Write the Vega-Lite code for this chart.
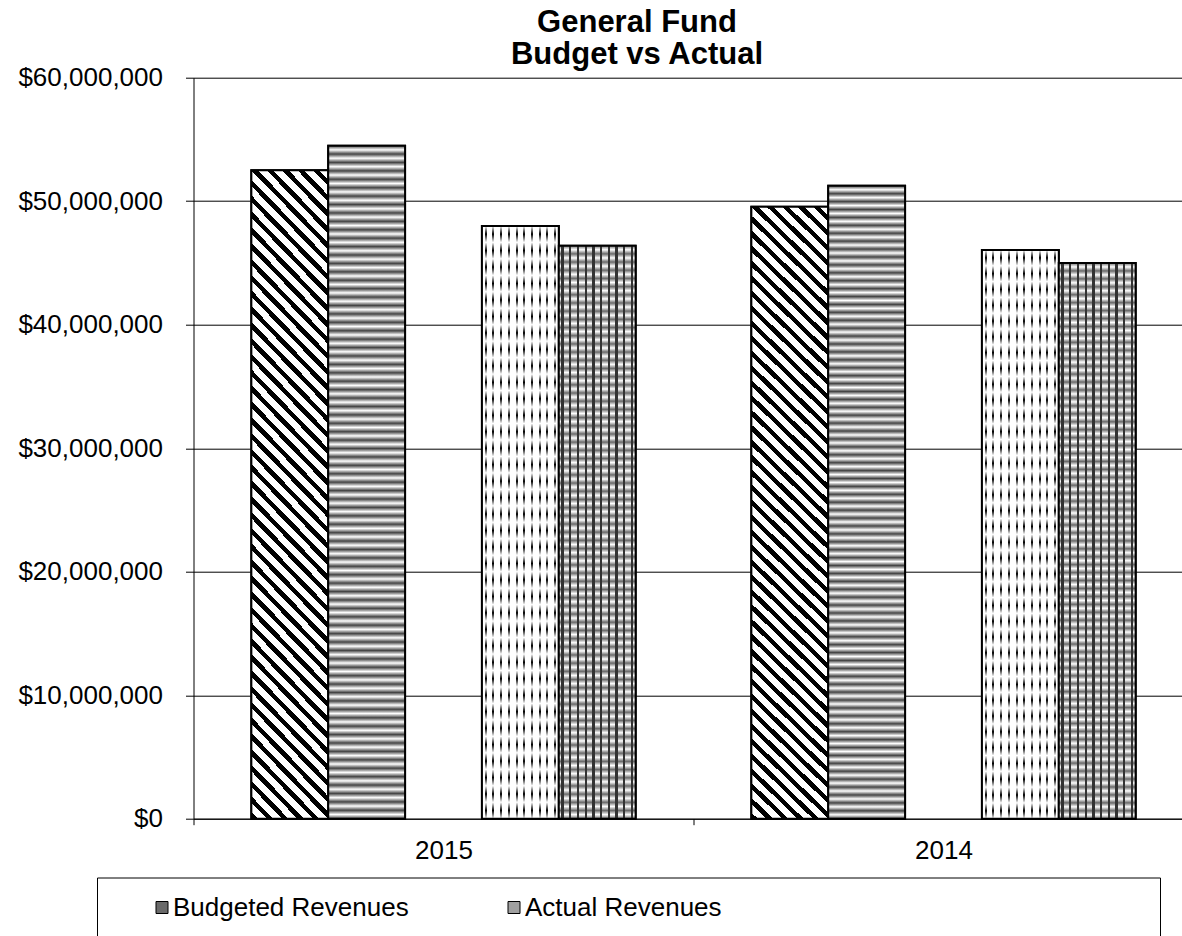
{
  "$schema": "https://vega.github.io/schema/vega-lite/v6.json",
  "width": 988.5,
  "height": 741,
  "autosize": {"type": "none"},
  "padding": {"left": 193.5, "top": 77.7, "right": 0, "bottom": 117.3},
  "background": "white",
  "title": {
    "text": ["General Fund", "Budget vs Actual"],
    "fontSize": 31,
    "fontWeight": "bold",
    "color": "black",
    "anchor": "middle",
    "frame": "group",
    "dx": -50.75,
    "dy": 16,
    "lineHeight": 32,
    "offset": 10
  },
  "config": {
    "font": "Liberation Sans",
    "view": {"stroke": null},
    "axis": {
      "labelFontSize": 26,
      "labelColor": "black",
      "domainColor": "black",
      "tickColor": "black",
      "domainWidth": 1,
      "tickWidth": 1,
      "labelOverlap": false
    }
  },
  "data": {
    "values": [
      {"year": "2015", "series": "Budgeted Revenues", "amount": 52500000},
      {"year": "2015", "series": "Actual Revenues", "amount": 54500000},
      {"year": "2015", "series": "Budgeted Expenditures", "amount": 48000000},
      {"year": "2015", "series": "Actual Expenditures", "amount": 46400000},
      {"year": "2014", "series": "Budgeted Revenues", "amount": 49550000},
      {"year": "2014", "series": "Actual Revenues", "amount": 51250000},
      {"year": "2014", "series": "Budgeted Expenditures", "amount": 46050000},
      {"year": "2014", "series": "Actual Expenditures", "amount": 45000000}
    ]
  },
  "encoding": {
    "x": {
      "field": "year",
      "type": "nominal",
      "sort": ["2015", "2014"],
      "title": null,
      "scale": {"range": [0, 1000], "paddingInner": 0, "paddingOuter": 0},
      "axis": {"labelAngle": 0, "tickBand": "extent", "tickSize": 6, "labelPadding": 13, "grid": false}
    },
    "xOffset": {
      "field": "series",
      "type": "nominal",
      "scale": {
        "domain": ["Budgeted Revenues", "Actual Revenues", " ", "Budgeted Expenditures", "Actual Expenditures"],
        "paddingInner": 0,
        "paddingOuter": 0.7526
      }
    },
    "y": {
      "field": "amount",
      "type": "quantitative",
      "title": null,
      "scale": {"domain": [0, 60000000], "nice": false},
      "axis": {
        "values": [0, 10000000, 20000000, 30000000, 40000000, 50000000, 60000000],
        "format": "$,.0f",
        "grid": true,
        "gridColor": "black",
        "gridWidth": 1,
        "tickSize": 8,
        "labelPadding": 23
      }
    }
  },
  "layer": [
    {
      "mark": {"type": "bar", "stroke": "black", "strokeWidth": 2},
      "encoding": {
        "color": {
          "field": "series",
          "type": "nominal",
          "scale": {
            "domain": ["Budgeted Revenues", "Actual Revenues", " ", "Budgeted Expenditures", "Actual Expenditures"],
            "range": ["#6a6a6a", "#a0a0a0", "#ffffff", "#e0e0e0", "#5c5c5c"]
          },
          "legend": {
            "orient": "none",
            "legendX": -96.5,
            "legendY": 799.8,
            "direction": "horizontal",
            "columns": 3,
            "gridAlign": "all",
            "values": ["Budgeted Revenues", "Actual Revenues", " "],
            "title": null,
            "labelFontSize": 26,
            "labelColor": "black",
            "labelLimit": 500,
            "labelOffset": -2,
            "symbolType": "square",
            "symbolSize": 144,
            "symbolStrokeColor": "black",
            "symbolStrokeWidth": 1,
            "symbolOffset": 35,
            "columnPadding": 27,
            "padding": 17,
            "strokeColor": "black",
            "fillColor": "white",
            "encode": {
              "symbols": {
                "update": {
                  "stroke": {"signal": "datum.value === ' ' ? 'transparent' : 'black'"},
                  "shape": {"signal": "datum.value === ' ' ? 'M0,0L45.67,0' : 'square'"}
                }
              }
            }
          }
        }
      }
    },
    {
      "transform": [{"filter": "datum.series === 'Budgeted Revenues'"}],
      "mark": {
        "type": "bar",
        "stroke": "black",
        "strokeWidth": 2,
        "fill": {
          "gradient": "linear", "x1": 0, "y1": 1, "x2": 0.1349, "y2": -0.1055,
          "stops": [
            {"offset":0,"color":"#000"},{"offset":0.0091,"color":"#000"},{"offset":0.0091,"color":"#fff"},{"offset":0.0217,"color":"#fff"},
            {"offset":0.0217,"color":"#000"},{"offset":0.0309,"color":"#000"},{"offset":0.0309,"color":"#fff"},{"offset":0.0435,"color":"#fff"},
            {"offset":0.0435,"color":"#000"},{"offset":0.0526,"color":"#000"},{"offset":0.0526,"color":"#fff"},{"offset":0.0652,"color":"#fff"},
            {"offset":0.0652,"color":"#000"},{"offset":0.0743,"color":"#000"},{"offset":0.0743,"color":"#fff"},{"offset":0.087,"color":"#fff"},
            {"offset":0.087,"color":"#000"},{"offset":0.0961,"color":"#000"},{"offset":0.0961,"color":"#fff"},{"offset":0.1087,"color":"#fff"},
            {"offset":0.1087,"color":"#000"},{"offset":0.1178,"color":"#000"},{"offset":0.1178,"color":"#fff"},{"offset":0.1304,"color":"#fff"},
            {"offset":0.1304,"color":"#000"},{"offset":0.1396,"color":"#000"},{"offset":0.1396,"color":"#fff"},{"offset":0.1522,"color":"#fff"},
            {"offset":0.1522,"color":"#000"},{"offset":0.1613,"color":"#000"},{"offset":0.1613,"color":"#fff"},{"offset":0.1739,"color":"#fff"},
            {"offset":0.1739,"color":"#000"},{"offset":0.183,"color":"#000"},{"offset":0.183,"color":"#fff"},{"offset":0.1957,"color":"#fff"},
            {"offset":0.1957,"color":"#000"},{"offset":0.2048,"color":"#000"},{"offset":0.2048,"color":"#fff"},{"offset":0.2174,"color":"#fff"},
            {"offset":0.2174,"color":"#000"},{"offset":0.2265,"color":"#000"},{"offset":0.2265,"color":"#fff"},{"offset":0.2391,"color":"#fff"},
            {"offset":0.2391,"color":"#000"},{"offset":0.2483,"color":"#000"},{"offset":0.2483,"color":"#fff"},{"offset":0.2609,"color":"#fff"},
            {"offset":0.2609,"color":"#000"},{"offset":0.27,"color":"#000"},{"offset":0.27,"color":"#fff"},{"offset":0.2826,"color":"#fff"},
            {"offset":0.2826,"color":"#000"},{"offset":0.2917,"color":"#000"},{"offset":0.2917,"color":"#fff"},{"offset":0.3043,"color":"#fff"},
            {"offset":0.3043,"color":"#000"},{"offset":0.3135,"color":"#000"},{"offset":0.3135,"color":"#fff"},{"offset":0.3261,"color":"#fff"},
            {"offset":0.3261,"color":"#000"},{"offset":0.3352,"color":"#000"},{"offset":0.3352,"color":"#fff"},{"offset":0.3478,"color":"#fff"},
            {"offset":0.3478,"color":"#000"},{"offset":0.357,"color":"#000"},{"offset":0.357,"color":"#fff"},{"offset":0.3696,"color":"#fff"},
            {"offset":0.3696,"color":"#000"},{"offset":0.3787,"color":"#000"},{"offset":0.3787,"color":"#fff"},{"offset":0.3913,"color":"#fff"},
            {"offset":0.3913,"color":"#000"},{"offset":0.4004,"color":"#000"},{"offset":0.4004,"color":"#fff"},{"offset":0.413,"color":"#fff"},
            {"offset":0.413,"color":"#000"},{"offset":0.4222,"color":"#000"},{"offset":0.4222,"color":"#fff"},{"offset":0.4348,"color":"#fff"},
            {"offset":0.4348,"color":"#000"},{"offset":0.4439,"color":"#000"},{"offset":0.4439,"color":"#fff"},{"offset":0.4565,"color":"#fff"},
            {"offset":0.4565,"color":"#000"},{"offset":0.4657,"color":"#000"},{"offset":0.4657,"color":"#fff"},{"offset":0.4783,"color":"#fff"},
            {"offset":0.4783,"color":"#000"},{"offset":0.4874,"color":"#000"},{"offset":0.4874,"color":"#fff"},{"offset":0.5,"color":"#fff"},
            {"offset":0.5,"color":"#000"},{"offset":0.5091,"color":"#000"},{"offset":0.5091,"color":"#fff"},{"offset":0.5217,"color":"#fff"},
            {"offset":0.5217,"color":"#000"},{"offset":0.5309,"color":"#000"},{"offset":0.5309,"color":"#fff"},{"offset":0.5435,"color":"#fff"},
            {"offset":0.5435,"color":"#000"},{"offset":0.5526,"color":"#000"},{"offset":0.5526,"color":"#fff"},{"offset":0.5652,"color":"#fff"},
            {"offset":0.5652,"color":"#000"},{"offset":0.5743,"color":"#000"},{"offset":0.5743,"color":"#fff"},{"offset":0.587,"color":"#fff"},
            {"offset":0.587,"color":"#000"},{"offset":0.5961,"color":"#000"},{"offset":0.5961,"color":"#fff"},{"offset":0.6087,"color":"#fff"},
            {"offset":0.6087,"color":"#000"},{"offset":0.6178,"color":"#000"},{"offset":0.6178,"color":"#fff"},{"offset":0.6304,"color":"#fff"},
            {"offset":0.6304,"color":"#000"},{"offset":0.6396,"color":"#000"},{"offset":0.6396,"color":"#fff"},{"offset":0.6522,"color":"#fff"},
            {"offset":0.6522,"color":"#000"},{"offset":0.6613,"color":"#000"},{"offset":0.6613,"color":"#fff"},{"offset":0.6739,"color":"#fff"},
            {"offset":0.6739,"color":"#000"},{"offset":0.683,"color":"#000"},{"offset":0.683,"color":"#fff"},{"offset":0.6957,"color":"#fff"},
            {"offset":0.6957,"color":"#000"},{"offset":0.7048,"color":"#000"},{"offset":0.7048,"color":"#fff"},{"offset":0.7174,"color":"#fff"},
            {"offset":0.7174,"color":"#000"},{"offset":0.7265,"color":"#000"},{"offset":0.7265,"color":"#fff"},{"offset":0.7391,"color":"#fff"},
            {"offset":0.7391,"color":"#000"},{"offset":0.7483,"color":"#000"},{"offset":0.7483,"color":"#fff"},{"offset":0.7609,"color":"#fff"},
            {"offset":0.7609,"color":"#000"},{"offset":0.77,"color":"#000"},{"offset":0.77,"color":"#fff"},{"offset":0.7826,"color":"#fff"},
            {"offset":0.7826,"color":"#000"},{"offset":0.7917,"color":"#000"},{"offset":0.7917,"color":"#fff"},{"offset":0.8043,"color":"#fff"},
            {"offset":0.8043,"color":"#000"},{"offset":0.8135,"color":"#000"},{"offset":0.8135,"color":"#fff"},{"offset":0.8261,"color":"#fff"},
            {"offset":0.8261,"color":"#000"},{"offset":0.8352,"color":"#000"},{"offset":0.8352,"color":"#fff"},{"offset":0.8478,"color":"#fff"},
            {"offset":0.8478,"color":"#000"},{"offset":0.857,"color":"#000"},{"offset":0.857,"color":"#fff"},{"offset":0.8696,"color":"#fff"},
            {"offset":0.8696,"color":"#000"},{"offset":0.8787,"color":"#000"},{"offset":0.8787,"color":"#fff"},{"offset":0.8913,"color":"#fff"},
            {"offset":0.8913,"color":"#000"},{"offset":0.9004,"color":"#000"},{"offset":0.9004,"color":"#fff"},{"offset":0.913,"color":"#fff"},
            {"offset":0.913,"color":"#000"},{"offset":0.9222,"color":"#000"},{"offset":0.9222,"color":"#fff"},{"offset":0.9348,"color":"#fff"},
            {"offset":0.9348,"color":"#000"},{"offset":0.9439,"color":"#000"},{"offset":0.9439,"color":"#fff"},{"offset":0.9565,"color":"#fff"},
            {"offset":0.9565,"color":"#000"},{"offset":0.9657,"color":"#000"},{"offset":0.9657,"color":"#fff"},{"offset":0.9783,"color":"#fff"},
            {"offset":0.9783,"color":"#000"},{"offset":0.9874,"color":"#000"},{"offset":0.9874,"color":"#fff"},{"offset":1,"color":"#fff"}
          ]
        }
      }
    },
    {
      "transform": [{"filter": "datum.series === 'Actual Revenues'"}],
      "mark": {
        "type": "bar",
        "stroke": "black",
        "strokeWidth": 2,
        "fill": {
          "gradient": "linear", "x1": 0, "y1": 0, "x2": 0, "y2": 1,
          "stops": [
            {"offset":0,"color":"#444"},{"offset":0.00625,"color":"#fff"},{"offset":0.0125,"color":"#444"},{"offset":0.01875,"color":"#fff"},{"offset":0.025,"color":"#444"},{"offset":0.03125,"color":"#fff"},{"offset":0.0375,"color":"#444"},{"offset":0.04375,"color":"#fff"},
            {"offset":0.05,"color":"#444"},{"offset":0.05625,"color":"#fff"},{"offset":0.0625,"color":"#444"},{"offset":0.06875,"color":"#fff"},{"offset":0.075,"color":"#444"},{"offset":0.08125,"color":"#fff"},{"offset":0.0875,"color":"#444"},{"offset":0.09375,"color":"#fff"},
            {"offset":0.1,"color":"#444"},{"offset":0.10625,"color":"#fff"},{"offset":0.1125,"color":"#444"},{"offset":0.11875,"color":"#fff"},{"offset":0.125,"color":"#444"},{"offset":0.13125,"color":"#fff"},{"offset":0.1375,"color":"#444"},{"offset":0.14375,"color":"#fff"},
            {"offset":0.15,"color":"#444"},{"offset":0.15625,"color":"#fff"},{"offset":0.1625,"color":"#444"},{"offset":0.16875,"color":"#fff"},{"offset":0.175,"color":"#444"},{"offset":0.18125,"color":"#fff"},{"offset":0.1875,"color":"#444"},{"offset":0.19375,"color":"#fff"},
            {"offset":0.2,"color":"#444"},{"offset":0.20625,"color":"#fff"},{"offset":0.2125,"color":"#444"},{"offset":0.21875,"color":"#fff"},{"offset":0.225,"color":"#444"},{"offset":0.23125,"color":"#fff"},{"offset":0.2375,"color":"#444"},{"offset":0.24375,"color":"#fff"},
            {"offset":0.25,"color":"#444"},{"offset":0.25625,"color":"#fff"},{"offset":0.2625,"color":"#444"},{"offset":0.26875,"color":"#fff"},{"offset":0.275,"color":"#444"},{"offset":0.28125,"color":"#fff"},{"offset":0.2875,"color":"#444"},{"offset":0.29375,"color":"#fff"},
            {"offset":0.3,"color":"#444"},{"offset":0.30625,"color":"#fff"},{"offset":0.3125,"color":"#444"},{"offset":0.31875,"color":"#fff"},{"offset":0.325,"color":"#444"},{"offset":0.33125,"color":"#fff"},{"offset":0.3375,"color":"#444"},{"offset":0.34375,"color":"#fff"},
            {"offset":0.35,"color":"#444"},{"offset":0.35625,"color":"#fff"},{"offset":0.3625,"color":"#444"},{"offset":0.36875,"color":"#fff"},{"offset":0.375,"color":"#444"},{"offset":0.38125,"color":"#fff"},{"offset":0.3875,"color":"#444"},{"offset":0.39375,"color":"#fff"},
            {"offset":0.4,"color":"#444"},{"offset":0.40625,"color":"#fff"},{"offset":0.4125,"color":"#444"},{"offset":0.41875,"color":"#fff"},{"offset":0.425,"color":"#444"},{"offset":0.43125,"color":"#fff"},{"offset":0.4375,"color":"#444"},{"offset":0.44375,"color":"#fff"},
            {"offset":0.45,"color":"#444"},{"offset":0.45625,"color":"#fff"},{"offset":0.4625,"color":"#444"},{"offset":0.46875,"color":"#fff"},{"offset":0.475,"color":"#444"},{"offset":0.48125,"color":"#fff"},{"offset":0.4875,"color":"#444"},{"offset":0.49375,"color":"#fff"},
            {"offset":0.5,"color":"#444"},{"offset":0.50625,"color":"#fff"},{"offset":0.5125,"color":"#444"},{"offset":0.51875,"color":"#fff"},{"offset":0.525,"color":"#444"},{"offset":0.53125,"color":"#fff"},{"offset":0.5375,"color":"#444"},{"offset":0.54375,"color":"#fff"},
            {"offset":0.55,"color":"#444"},{"offset":0.55625,"color":"#fff"},{"offset":0.5625,"color":"#444"},{"offset":0.56875,"color":"#fff"},{"offset":0.575,"color":"#444"},{"offset":0.58125,"color":"#fff"},{"offset":0.5875,"color":"#444"},{"offset":0.59375,"color":"#fff"},
            {"offset":0.6,"color":"#444"},{"offset":0.60625,"color":"#fff"},{"offset":0.6125,"color":"#444"},{"offset":0.61875,"color":"#fff"},{"offset":0.625,"color":"#444"},{"offset":0.63125,"color":"#fff"},{"offset":0.6375,"color":"#444"},{"offset":0.64375,"color":"#fff"},
            {"offset":0.65,"color":"#444"},{"offset":0.65625,"color":"#fff"},{"offset":0.6625,"color":"#444"},{"offset":0.66875,"color":"#fff"},{"offset":0.675,"color":"#444"},{"offset":0.68125,"color":"#fff"},{"offset":0.6875,"color":"#444"},{"offset":0.69375,"color":"#fff"},
            {"offset":0.7,"color":"#444"},{"offset":0.70625,"color":"#fff"},{"offset":0.7125,"color":"#444"},{"offset":0.71875,"color":"#fff"},{"offset":0.725,"color":"#444"},{"offset":0.73125,"color":"#fff"},{"offset":0.7375,"color":"#444"},{"offset":0.74375,"color":"#fff"},
            {"offset":0.75,"color":"#444"},{"offset":0.75625,"color":"#fff"},{"offset":0.7625,"color":"#444"},{"offset":0.76875,"color":"#fff"},{"offset":0.775,"color":"#444"},{"offset":0.78125,"color":"#fff"},{"offset":0.7875,"color":"#444"},{"offset":0.79375,"color":"#fff"},
            {"offset":0.8,"color":"#444"},{"offset":0.80625,"color":"#fff"},{"offset":0.8125,"color":"#444"},{"offset":0.81875,"color":"#fff"},{"offset":0.825,"color":"#444"},{"offset":0.83125,"color":"#fff"},{"offset":0.8375,"color":"#444"},{"offset":0.84375,"color":"#fff"},
            {"offset":0.85,"color":"#444"},{"offset":0.85625,"color":"#fff"},{"offset":0.8625,"color":"#444"},{"offset":0.86875,"color":"#fff"},{"offset":0.875,"color":"#444"},{"offset":0.88125,"color":"#fff"},{"offset":0.8875,"color":"#444"},{"offset":0.89375,"color":"#fff"},
            {"offset":0.9,"color":"#444"},{"offset":0.90625,"color":"#fff"},{"offset":0.9125,"color":"#444"},{"offset":0.91875,"color":"#fff"},{"offset":0.925,"color":"#444"},{"offset":0.93125,"color":"#fff"},{"offset":0.9375,"color":"#444"},{"offset":0.94375,"color":"#fff"},
            {"offset":0.95,"color":"#444"},{"offset":0.95625,"color":"#fff"},{"offset":0.9625,"color":"#444"},{"offset":0.96875,"color":"#fff"},{"offset":0.975,"color":"#444"},{"offset":0.98125,"color":"#fff"},{"offset":0.9875,"color":"#444"},{"offset":0.99375,"color":"#fff"},
            {"offset":1,"color":"#444"}
          ]
        }
      }
    },
    {
      "transform": [{"filter": "datum.series === 'Budgeted Expenditures'"}],
      "mark": {
        "type": "bar",
        "strokeWidth": 0,
        "fill": {
          "gradient": "linear", "x1": 0, "y1": 0, "x2": 1, "y2": 0,
          "stops": [
            {"offset":0,"color":"#fff"},{"offset":0.037,"color":"#fff"},{"offset":0.037,"color":"#000"},{"offset":0.063,"color":"#000"},{"offset":0.063,"color":"#fff"},
            {"offset":0.137,"color":"#fff"},{"offset":0.137,"color":"#000"},{"offset":0.163,"color":"#000"},{"offset":0.163,"color":"#fff"},
            {"offset":0.237,"color":"#fff"},{"offset":0.237,"color":"#000"},{"offset":0.263,"color":"#000"},{"offset":0.263,"color":"#fff"},
            {"offset":0.337,"color":"#fff"},{"offset":0.337,"color":"#000"},{"offset":0.363,"color":"#000"},{"offset":0.363,"color":"#fff"},
            {"offset":0.437,"color":"#fff"},{"offset":0.437,"color":"#000"},{"offset":0.463,"color":"#000"},{"offset":0.463,"color":"#fff"},
            {"offset":0.537,"color":"#fff"},{"offset":0.537,"color":"#000"},{"offset":0.563,"color":"#000"},{"offset":0.563,"color":"#fff"},
            {"offset":0.637,"color":"#fff"},{"offset":0.637,"color":"#000"},{"offset":0.663,"color":"#000"},{"offset":0.663,"color":"#fff"},
            {"offset":0.737,"color":"#fff"},{"offset":0.737,"color":"#000"},{"offset":0.763,"color":"#000"},{"offset":0.763,"color":"#fff"},
            {"offset":0.837,"color":"#fff"},{"offset":0.837,"color":"#000"},{"offset":0.863,"color":"#000"},{"offset":0.863,"color":"#fff"},
            {"offset":0.937,"color":"#fff"},{"offset":0.937,"color":"#000"},{"offset":0.963,"color":"#000"},{"offset":0.963,"color":"#fff"},
            {"offset":1,"color":"#fff"}
          ]
        }
      }
    },
    {
      "transform": [{"filter": "datum.series === 'Budgeted Expenditures'"}],
      "mark": {
        "type": "bar",
        "stroke": "black",
        "strokeWidth": 2,
        "fill": {
          "gradient": "linear", "x1": 0, "y1": 0, "x2": 0, "y2": 1,
          "stops": [
            {"offset":0,"color":"#fff"},{"offset":0.0139,"color":"#fff0"},{"offset":0.0278,"color":"#fff"},{"offset":0.0417,"color":"#fff0"},{"offset":0.0556,"color":"#fff"},{"offset":0.0694,"color":"#fff0"},
            {"offset":0.0833,"color":"#fff"},{"offset":0.0972,"color":"#fff0"},{"offset":0.1111,"color":"#fff"},{"offset":0.125,"color":"#fff0"},{"offset":0.1389,"color":"#fff"},{"offset":0.1528,"color":"#fff0"},
            {"offset":0.1667,"color":"#fff"},{"offset":0.1806,"color":"#fff0"},{"offset":0.1944,"color":"#fff"},{"offset":0.2083,"color":"#fff0"},{"offset":0.2222,"color":"#fff"},{"offset":0.2361,"color":"#fff0"},
            {"offset":0.25,"color":"#fff"},{"offset":0.2639,"color":"#fff0"},{"offset":0.2778,"color":"#fff"},{"offset":0.2917,"color":"#fff0"},{"offset":0.3056,"color":"#fff"},{"offset":0.3194,"color":"#fff0"},
            {"offset":0.3333,"color":"#fff"},{"offset":0.3472,"color":"#fff0"},{"offset":0.3611,"color":"#fff"},{"offset":0.375,"color":"#fff0"},{"offset":0.3889,"color":"#fff"},{"offset":0.4028,"color":"#fff0"},
            {"offset":0.4167,"color":"#fff"},{"offset":0.4306,"color":"#fff0"},{"offset":0.4444,"color":"#fff"},{"offset":0.4583,"color":"#fff0"},{"offset":0.4722,"color":"#fff"},{"offset":0.4861,"color":"#fff0"},
            {"offset":0.5,"color":"#fff"},{"offset":0.5139,"color":"#fff0"},{"offset":0.5278,"color":"#fff"},{"offset":0.5417,"color":"#fff0"},{"offset":0.5556,"color":"#fff"},{"offset":0.5694,"color":"#fff0"},
            {"offset":0.5833,"color":"#fff"},{"offset":0.5972,"color":"#fff0"},{"offset":0.6111,"color":"#fff"},{"offset":0.625,"color":"#fff0"},{"offset":0.6389,"color":"#fff"},{"offset":0.6528,"color":"#fff0"},
            {"offset":0.6667,"color":"#fff"},{"offset":0.6806,"color":"#fff0"},{"offset":0.6944,"color":"#fff"},{"offset":0.7083,"color":"#fff0"},{"offset":0.7222,"color":"#fff"},{"offset":0.7361,"color":"#fff0"},
            {"offset":0.75,"color":"#fff"},{"offset":0.7639,"color":"#fff0"},{"offset":0.7778,"color":"#fff"},{"offset":0.7917,"color":"#fff0"},{"offset":0.8056,"color":"#fff"},{"offset":0.8194,"color":"#fff0"},
            {"offset":0.8333,"color":"#fff"},{"offset":0.8472,"color":"#fff0"},{"offset":0.8611,"color":"#fff"},{"offset":0.875,"color":"#fff0"},{"offset":0.8889,"color":"#fff"},{"offset":0.9028,"color":"#fff0"},
            {"offset":0.9167,"color":"#fff"},{"offset":0.9306,"color":"#fff0"},{"offset":0.9444,"color":"#fff"},{"offset":0.9583,"color":"#fff0"},{"offset":0.9722,"color":"#fff"},{"offset":0.9861,"color":"#fff0"},
            {"offset":1,"color":"#fff"}
          ]
        }
      }
    },
    {
      "transform": [{"filter": "datum.series === 'Actual Expenditures'"}],
      "mark": {
        "type": "bar",
        "strokeWidth": 0,
        "fill": {
          "gradient": "linear", "x1": 0, "y1": 0, "x2": 1, "y2": 0,
          "stops": [
            {"offset":0,"color":"#fff"},{"offset":0.035,"color":"#fff"},{"offset":0.035,"color":"#333"},{"offset":0.065,"color":"#333"},{"offset":0.065,"color":"#fff"},
            {"offset":0.135,"color":"#fff"},{"offset":0.135,"color":"#333"},{"offset":0.165,"color":"#333"},{"offset":0.165,"color":"#fff"},
            {"offset":0.235,"color":"#fff"},{"offset":0.235,"color":"#333"},{"offset":0.265,"color":"#333"},{"offset":0.265,"color":"#fff"},
            {"offset":0.335,"color":"#fff"},{"offset":0.335,"color":"#333"},{"offset":0.365,"color":"#333"},{"offset":0.365,"color":"#fff"},
            {"offset":0.435,"color":"#fff"},{"offset":0.435,"color":"#333"},{"offset":0.465,"color":"#333"},{"offset":0.465,"color":"#fff"},
            {"offset":0.535,"color":"#fff"},{"offset":0.535,"color":"#333"},{"offset":0.565,"color":"#333"},{"offset":0.565,"color":"#fff"},
            {"offset":0.635,"color":"#fff"},{"offset":0.635,"color":"#333"},{"offset":0.665,"color":"#333"},{"offset":0.665,"color":"#fff"},
            {"offset":0.735,"color":"#fff"},{"offset":0.735,"color":"#333"},{"offset":0.765,"color":"#333"},{"offset":0.765,"color":"#fff"},
            {"offset":0.835,"color":"#fff"},{"offset":0.835,"color":"#333"},{"offset":0.865,"color":"#333"},{"offset":0.865,"color":"#fff"},
            {"offset":0.935,"color":"#fff"},{"offset":0.935,"color":"#333"},{"offset":0.965,"color":"#333"},{"offset":0.965,"color":"#fff"},
            {"offset":1,"color":"#fff"}
          ]
        }
      }
    },
    {
      "transform": [{"filter": "datum.series === 'Actual Expenditures'"}],
      "mark": {
        "type": "bar",
        "stroke": "black",
        "strokeWidth": 2,
        "fill": {
          "gradient": "linear", "x1": 0, "y1": 0, "x2": 0, "y2": 1,
          "stops": [
            {"offset":0,"color":"#333b"},{"offset":0.0071,"color":"#3330"},{"offset":0.0143,"color":"#333b"},{"offset":0.0214,"color":"#3330"},{"offset":0.0286,"color":"#333b"},{"offset":0.0357,"color":"#3330"},{"offset":0.0429,"color":"#333b"},{"offset":0.05,"color":"#3330"},{"offset":0.0571,"color":"#333b"},{"offset":0.0643,"color":"#3330"},{"offset":0.0714,"color":"#333b"},{"offset":0.0786,"color":"#3330"},{"offset":0.0857,"color":"#333b"},{"offset":0.0929,"color":"#3330"},
            {"offset":0.1,"color":"#333b"},{"offset":0.1071,"color":"#3330"},{"offset":0.1143,"color":"#333b"},{"offset":0.1214,"color":"#3330"},{"offset":0.1286,"color":"#333b"},{"offset":0.1357,"color":"#3330"},{"offset":0.1429,"color":"#333b"},{"offset":0.15,"color":"#3330"},{"offset":0.1571,"color":"#333b"},{"offset":0.1643,"color":"#3330"},{"offset":0.1714,"color":"#333b"},{"offset":0.1786,"color":"#3330"},{"offset":0.1857,"color":"#333b"},{"offset":0.1929,"color":"#3330"},
            {"offset":0.2,"color":"#333b"},{"offset":0.2071,"color":"#3330"},{"offset":0.2143,"color":"#333b"},{"offset":0.2214,"color":"#3330"},{"offset":0.2286,"color":"#333b"},{"offset":0.2357,"color":"#3330"},{"offset":0.2429,"color":"#333b"},{"offset":0.25,"color":"#3330"},{"offset":0.2571,"color":"#333b"},{"offset":0.2643,"color":"#3330"},{"offset":0.2714,"color":"#333b"},{"offset":0.2786,"color":"#3330"},{"offset":0.2857,"color":"#333b"},{"offset":0.2929,"color":"#3330"},
            {"offset":0.3,"color":"#333b"},{"offset":0.3071,"color":"#3330"},{"offset":0.3143,"color":"#333b"},{"offset":0.3214,"color":"#3330"},{"offset":0.3286,"color":"#333b"},{"offset":0.3357,"color":"#3330"},{"offset":0.3429,"color":"#333b"},{"offset":0.35,"color":"#3330"},{"offset":0.3571,"color":"#333b"},{"offset":0.3643,"color":"#3330"},{"offset":0.3714,"color":"#333b"},{"offset":0.3786,"color":"#3330"},{"offset":0.3857,"color":"#333b"},{"offset":0.3929,"color":"#3330"},
            {"offset":0.4,"color":"#333b"},{"offset":0.4071,"color":"#3330"},{"offset":0.4143,"color":"#333b"},{"offset":0.4214,"color":"#3330"},{"offset":0.4286,"color":"#333b"},{"offset":0.4357,"color":"#3330"},{"offset":0.4429,"color":"#333b"},{"offset":0.45,"color":"#3330"},{"offset":0.4571,"color":"#333b"},{"offset":0.4643,"color":"#3330"},{"offset":0.4714,"color":"#333b"},{"offset":0.4786,"color":"#3330"},{"offset":0.4857,"color":"#333b"},{"offset":0.4929,"color":"#3330"},
            {"offset":0.5,"color":"#333b"},{"offset":0.5071,"color":"#3330"},{"offset":0.5143,"color":"#333b"},{"offset":0.5214,"color":"#3330"},{"offset":0.5286,"color":"#333b"},{"offset":0.5357,"color":"#3330"},{"offset":0.5429,"color":"#333b"},{"offset":0.55,"color":"#3330"},{"offset":0.5571,"color":"#333b"},{"offset":0.5643,"color":"#3330"},{"offset":0.5714,"color":"#333b"},{"offset":0.5786,"color":"#3330"},{"offset":0.5857,"color":"#333b"},{"offset":0.5929,"color":"#3330"},
            {"offset":0.6,"color":"#333b"},{"offset":0.6071,"color":"#3330"},{"offset":0.6143,"color":"#333b"},{"offset":0.6214,"color":"#3330"},{"offset":0.6286,"color":"#333b"},{"offset":0.6357,"color":"#3330"},{"offset":0.6429,"color":"#333b"},{"offset":0.65,"color":"#3330"},{"offset":0.6571,"color":"#333b"},{"offset":0.6643,"color":"#3330"},{"offset":0.6714,"color":"#333b"},{"offset":0.6786,"color":"#3330"},{"offset":0.6857,"color":"#333b"},{"offset":0.6929,"color":"#3330"},
            {"offset":0.7,"color":"#333b"},{"offset":0.7071,"color":"#3330"},{"offset":0.7143,"color":"#333b"},{"offset":0.7214,"color":"#3330"},{"offset":0.7286,"color":"#333b"},{"offset":0.7357,"color":"#3330"},{"offset":0.7429,"color":"#333b"},{"offset":0.75,"color":"#3330"},{"offset":0.7571,"color":"#333b"},{"offset":0.7643,"color":"#3330"},{"offset":0.7714,"color":"#333b"},{"offset":0.7786,"color":"#3330"},{"offset":0.7857,"color":"#333b"},{"offset":0.7929,"color":"#3330"},
            {"offset":0.8,"color":"#333b"},{"offset":0.8071,"color":"#3330"},{"offset":0.8143,"color":"#333b"},{"offset":0.8214,"color":"#3330"},{"offset":0.8286,"color":"#333b"},{"offset":0.8357,"color":"#3330"},{"offset":0.8429,"color":"#333b"},{"offset":0.85,"color":"#3330"},{"offset":0.8571,"color":"#333b"},{"offset":0.8643,"color":"#3330"},{"offset":0.8714,"color":"#333b"},{"offset":0.8786,"color":"#3330"},{"offset":0.8857,"color":"#333b"},{"offset":0.8929,"color":"#3330"},
            {"offset":0.9,"color":"#333b"},{"offset":0.9071,"color":"#3330"},{"offset":0.9143,"color":"#333b"},{"offset":0.9214,"color":"#3330"},{"offset":0.9286,"color":"#333b"},{"offset":0.9357,"color":"#3330"},{"offset":0.9429,"color":"#333b"},{"offset":0.95,"color":"#3330"},{"offset":0.9571,"color":"#333b"},{"offset":0.9643,"color":"#3330"},{"offset":0.9714,"color":"#333b"},{"offset":0.9786,"color":"#3330"},{"offset":0.9857,"color":"#333b"},{"offset":0.9929,"color":"#3330"},
            {"offset":1,"color":"#333b"}
          ]
        }
      }
    }
  ]
}
